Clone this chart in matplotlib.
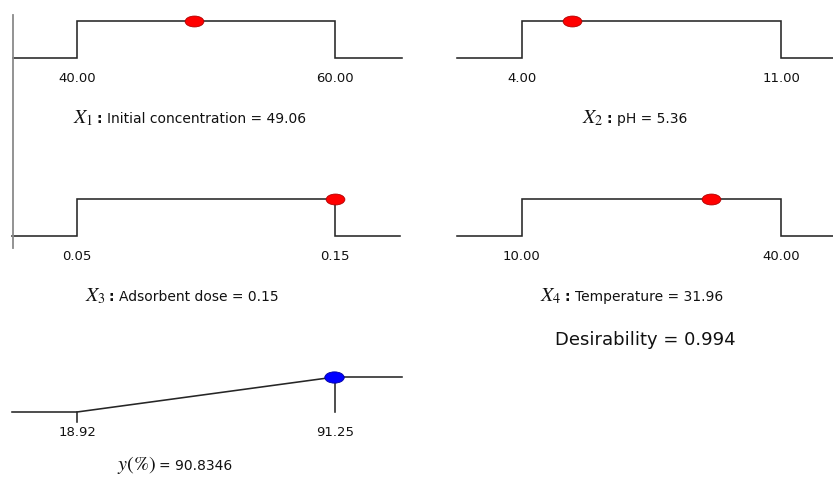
import matplotlib
matplotlib.use("Agg")
import matplotlib.pyplot as plt
from matplotlib.path import Path
from matplotlib.transforms import Affine2D
from matplotlib.lines import Line2D

# ---------------- data ----------------
factor_syms = ["1", "2", "3", "4"]
factor_names = ["Initial concentration", "pH", "Adsorbent dose", "Temperature"]
factor_low = [40.00, 4.00, 0.05, 10.00]
factor_high = [60.00, 11.00, 0.15, 40.00]
factor_opt = [49.06, 5.36, 0.15, 31.96]
factor_lab = ["49.06", "5.36", "0.15", "31.96"]

resp_low = 18.92
resp_high = 91.25
resp_pred = 90.8346
desirability = 0.994

# ---------------- layout (pixels) ----------------
W, H = 833, 482
fig = plt.figure(figsize=(W / 100, H / 100), dpi=100)
fig.patch.set_facecolor("white")

def fx(px):
    return px / W

def fy(py):
    return 1 - py / H

LINE = "#262626"
LW = 1.15
ellipse = Path.unit_circle().transformed(Affine2D().scale(1.0, 0.58))

# panel geometry: (x0, x1, low_px, high_px, base_py, top_py)
geo = [
    (12.5, 402, 77, 335, 57.5, 21),
    (457, 833, 521.5, 781, 57.5, 21),
    (12.5, 400, 77, 335, 235.5, 199),
    (457, 833, 521.5, 781, 235.5, 199),
]
txt_pos = [(73, 123), (582, 123), (85, 301), (540, 301)]

def make_ax(x0, x1, lp, hp, bp, tp, low, high):
    ax = fig.add_axes([fx(x0), fy(bp), fx(x1) - fx(x0), (bp - tp) / H])
    s = (high - low) / (hp - lp)
    ax.set_xlim(low - (lp - x0) * s, high + (x1 - hp) * s)
    ax.set_ylim(0, 1)
    ax.axis("off")
    return ax

def tick_label(ax, v):
    ax.annotate(f"{v:.2f}", xy=(v, 0), xytext=(0, -20.5 * 0.72),
                textcoords="offset points", ha="center", va="center",
                fontsize=9.5, family="DejaVu Sans", color="#111111",
                annotation_clip=False)

renderer = fig.canvas.get_renderer()

def seq_text(px, py, parts):
    """Place text pieces one after another on a common baseline."""
    x = fx(px)
    for s, props, gap in parts:
        t = fig.text(x, fy(py), s, ha="left", va="baseline", **props)
        bb = t.get_window_extent(renderer=renderer)
        x = (bb.x1 + gap) / W

sym_props = dict(fontsize=14.5, math_fontfamily="stix", color="#111111")
colon_props = dict(fontsize=10, fontweight="bold", family="DejaVu Sans", color="#111111")
name_props = dict(fontsize=10, family="DejaVu Sans", color="#111111")

for i in range(4):
    low, high, opt = factor_low[i], factor_high[i], factor_opt[i]
    ax = make_ax(*geo[i], low, high)
    xmin, xmax = ax.get_xlim()
    ax.plot([xmin, low, low, high, high, xmax], [0, 0, 1, 1, 0, 0],
            color=LINE, lw=LW, clip_on=False, solid_joinstyle="miter")
    ax.plot([opt], [1], marker=ellipse, markersize=13.5, color="#ff0000",
            markeredgecolor="#b00000", markeredgewidth=0.6, clip_on=False, zorder=5)
    tick_label(ax, low)
    tick_label(ax, high)
    seq_text(*txt_pos[i], [
        (rf"$X_{{{factor_syms[i]}}}$", sym_props, 3),
        (":", colon_props, 5),
        (f"{factor_names[i]} = {factor_lab[i]}", name_props, 0),
    ])

# response panel
ax = make_ax(12, 402, 77, 335, 412, 377, resp_low, resp_high)
xmin, xmax = ax.get_xlim()
ax.plot([xmin, resp_low, resp_high, xmax], [0, 0, 1, 1],
        color=LINE, lw=LW, clip_on=False)
ax.plot([resp_low, resp_low], [0, -0.29], color=LINE, lw=LW, clip_on=False)
ax.plot([resp_high, resp_high], [1, 0], color=LINE, lw=LW, clip_on=False)
d_pred = (resp_pred - resp_low) / (resp_high - resp_low)
ax.plot([resp_pred], [d_pred], marker=ellipse, markersize=14, color="#0000ff",
        markeredgecolor="#0000a0", markeredgewidth=0.6, clip_on=False, zorder=5)
tick_label(ax, resp_low)
tick_label(ax, resp_high)
seq_text(117, 470, [
    (r"$y(\%)$", dict(fontsize=14.5, math_fontfamily="stix", color="#111111"), 3),
    (f"= {resp_pred:.4f}", name_props, 0),
])

fig.text(fx(645), fy(345), f"Desirability = {desirability:.3f}", ha="center",
         va="baseline", fontsize=13, family="DejaVu Sans", color="#111111")

# left frame line
fig.add_artist(Line2D([fx(12.7), fx(12.7)], [fy(15), fy(248)],
                      transform=fig.transFigure, color="#8a8a8a", lw=1.3))

fig.savefig("out.png", dpi=100, facecolor="white")
